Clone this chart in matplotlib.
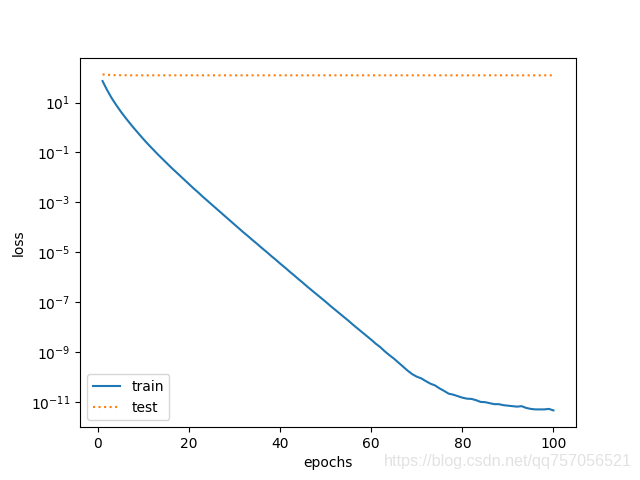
import numpy as np
import matplotlib
matplotlib.use('Agg')
import matplotlib.pyplot as plt

epochs = np.arange(1, 101)

# train loss (log10)
train_log10 = [
    1.86, 1.50, 1.18, 0.90, 0.64, 0.40, 0.17, -0.05, -0.26, -0.47,
    -0.67, -0.86, -1.05, -1.23, -1.41, -1.59, -1.76, -1.93, -2.10, -2.27,
    -2.44, -2.60, -2.77, -2.93, -3.09, -3.25, -3.41, -3.57, -3.73, -3.89,
    -4.05, -4.21, -4.36, -4.52, -4.67, -4.83, -4.98, -5.14, -5.29, -5.45,
    -5.60, -5.76, -5.91, -6.07, -6.22, -6.38, -6.53, -6.68, -6.83, -6.98,
    -7.14, -7.29, -7.44, -7.59, -7.74, -7.90, -8.05, -8.20, -8.35, -8.50,
    -8.66, -8.80, -8.97, -9.12, -9.26, -9.42, -9.58, -9.74, -9.88, -9.98,
    -10.05, -10.16, -10.26, -10.33, -10.45, -10.55, -10.66, -10.70, -10.76, -10.82,
    -10.86, -10.87, -10.92, -10.99, -11.00, -11.04, -11.08, -11.08, -11.12, -11.14,
    -11.16, -11.18, -11.16, -11.23, -11.27, -11.29, -11.29, -11.29, -11.27, -11.33,
]
train_loss = 10 ** np.array(train_log10)

test_loss = [
    134, 129, 126, 125, 124, 124, 123, 123, 123, 123,
    123, 123, 123, 123, 123, 123, 123, 123, 123, 123,
    123, 123, 123, 123, 123, 123, 123, 123, 123, 123,
    123, 123, 123, 123, 123, 123, 123, 123, 123, 123,
    123, 123, 123, 123, 123, 123, 123, 123, 123, 123,
    123, 123, 123, 123, 123, 123, 123, 123, 123, 123,
    123, 123, 123, 123, 123, 123, 123, 123, 123, 123,
    123, 123, 123, 123, 123, 123, 123, 123, 123, 123,
    123, 123, 123, 123, 123, 123, 123, 123, 123, 123,
    123, 123, 123, 123, 123, 123, 123, 123, 123, 123,
]

fig = plt.figure(figsize=(6.4, 4.8), dpi=100)
plt.semilogy(epochs, train_loss, label='train')
plt.semilogy(epochs, test_loss, ':', label='test')
plt.xlabel('epochs')
plt.ylabel('loss')
plt.legend(loc='lower left')

fig.text(0.988, 0.022, 'https://blog.csdn.net/qq757056521', ha='right', va='bottom',
         fontsize=11.6, color='#e2e2e2', family='Liberation Sans')

plt.savefig('out.png', dpi=100)
